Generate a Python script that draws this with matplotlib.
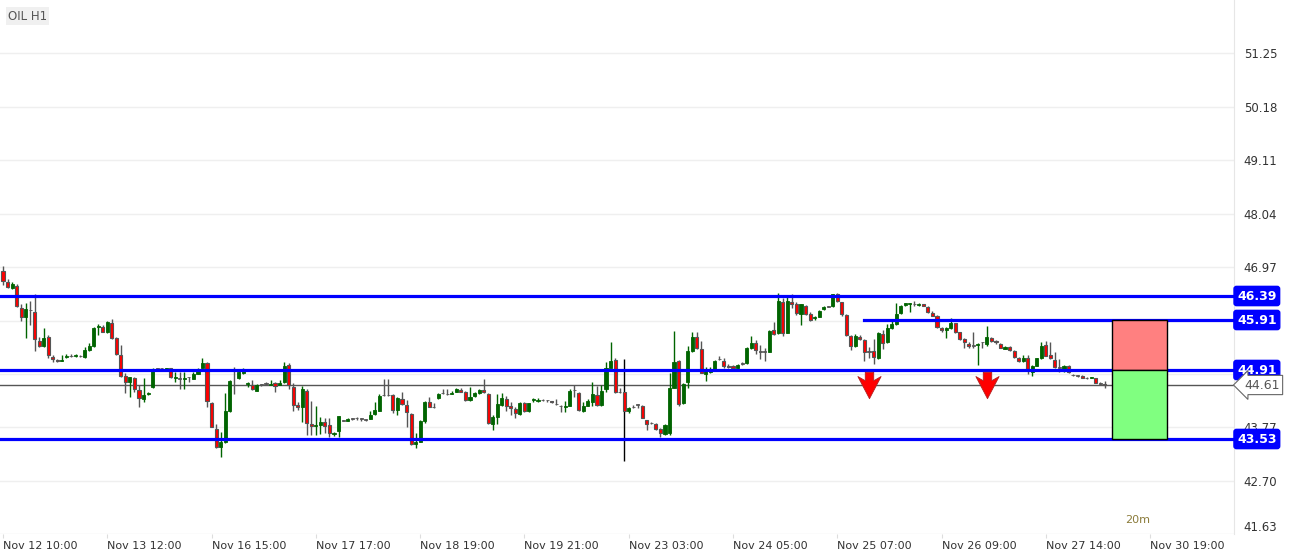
import matplotlib
matplotlib.use("Agg")
import matplotlib.pyplot as plt
import matplotlib.transforms as mtransforms
from matplotlib.path import Path
from matplotlib.patches import Rectangle
import numpy as np

# hourly OIL candles (open, high, low, close)
opens = [46.90, 46.67, 46.55, 46.60, 46.16, 45.97, 46.11, 46.08, 45.50, 45.39,
         45.57, 45.18, 45.12, 45.10, 45.17, 45.19, 45.19, 45.19, 45.18, 45.32,
         45.39, 45.77, 45.77, 45.67, 45.85, 45.55, 45.21, 44.79, 44.67, 44.76,
         44.52, 44.33, 44.43, 44.57, 44.94, 44.95, 44.93, 44.95, 44.75, 44.74,
         44.74, 44.77, 44.73, 44.83, 44.96, 45.06, 44.25, 43.74, 43.37, 43.48,
         44.10, 44.90, 44.75, 44.85, 44.63, 44.62, 44.50, 44.62, 44.64, 44.62,
         44.65, 44.61, 44.67, 45.01, 44.57, 44.21, 44.17, 44.49, 43.83, 43.79,
         43.81, 43.87, 43.81, 43.63, 43.69, 43.90, 43.90, 43.94, 43.95, 43.94,
         43.92, 43.94, 44.04, 44.10, 44.41, 44.41, 44.41, 44.11, 44.34, 44.21,
         44.03, 43.43, 43.48, 43.90, 44.28, 44.17, 44.35, 44.45, 44.43, 44.43,
         44.47, 44.52, 44.47, 44.31, 44.39, 44.45, 44.51, 44.43, 43.83, 43.98,
         44.21, 44.33, 44.20, 44.14, 44.03, 44.25, 44.09, 44.31, 44.29, 44.31,
         44.31, 44.29, 44.23, 44.19, 44.17, 44.20, 44.51, 44.46, 44.09, 44.20,
         44.28, 44.42, 44.21, 44.53, 44.96, 45.11, 44.47, 44.47, 44.09, 44.17,
         44.22, 44.19, 43.91, 43.85, 43.83, 43.73, 43.63, 43.66, 44.56, 45.09,
         44.25, 44.67, 45.29, 45.57, 45.33, 44.84, 44.87, 44.91, 45.13, 45.10,
         44.98, 44.99, 44.95, 45.04, 45.05, 45.36, 45.46, 45.28, 45.28, 45.28,
         45.71, 45.65, 46.28, 45.66, 46.28, 46.23, 46.03, 46.20, 46.03, 45.96,
         45.98, 46.13, 46.18, 46.19, 46.43, 46.27, 46.01, 45.60, 45.40, 45.58,
         45.51, 45.28, 45.29, 45.15, 45.63, 45.47, 45.76, 45.83, 46.05, 46.21,
         46.24, 46.23, 46.22, 46.23, 46.18, 46.06, 46.00, 45.76, 45.71, 45.75,
         45.85, 45.67, 45.53, 45.44, 45.40, 45.42, 45.47, 45.43, 45.56, 45.49,
         45.44, 45.33, 45.37, 45.30, 45.15, 45.09, 45.16, 44.88, 45.00, 45.15,
         45.41, 45.21, 45.11, 44.96, 44.93, 44.99, 44.81, 44.80, 44.79, 44.75,
         44.75, 44.75, 44.64, 44.63]
highs = [47.00, 46.73, 46.67, 46.63, 46.23, 46.25, 46.29, 46.43, 45.58, 45.75,
         45.62, 45.21, 45.13, 45.22, 45.23, 45.23, 45.24, 45.22, 45.38, 45.45,
         45.78, 45.83, 45.81, 45.89, 45.93, 45.57, 45.41, 44.85, 44.78, 44.78,
         44.61, 44.76, 44.48, 44.95, 44.95, 44.96, 44.96, 44.96, 44.87, 44.87,
         44.87, 44.78, 44.87, 44.96, 45.15, 45.08, 44.28, 43.83, 43.68, 44.45,
         44.71, 44.97, 44.89, 44.95, 44.68, 44.71, 44.63, 44.64, 44.68, 44.71,
         44.67, 44.71, 45.08, 45.05, 44.66, 44.28, 44.59, 44.53, 44.29, 44.20,
         43.98, 43.96, 43.95, 43.68, 44.00, 43.92, 43.95, 43.96, 43.98, 43.95,
         43.93, 44.09, 44.27, 44.43, 44.73, 44.73, 44.43, 44.38, 44.48, 44.31,
         44.05, 43.66, 43.91, 44.29, 44.38, 44.26, 44.45, 44.54, 44.54, 44.50,
         44.55, 44.55, 44.49, 44.58, 44.47, 44.53, 44.74, 44.45, 44.01, 44.43,
         44.45, 44.39, 44.28, 44.18, 44.28, 44.28, 44.26, 44.35, 44.35, 44.33,
         44.32, 44.29, 44.33, 44.22, 44.29, 44.53, 44.61, 44.48, 44.28, 44.33,
         44.68, 44.60, 44.61, 45.07, 45.48, 45.15, 44.55, 45.13, 44.17, 44.21,
         44.24, 44.21, 43.92, 43.88, 43.86, 43.75, 43.83, 44.86, 45.70, 45.11,
         44.65, 45.40, 45.68, 45.68, 45.49, 44.98, 44.98, 45.11, 45.20, 45.15,
         45.03, 45.01, 45.04, 45.07, 45.38, 45.60, 45.51, 45.41, 45.36, 45.71,
         45.87, 46.45, 46.36, 46.41, 46.43, 46.27, 46.24, 46.21, 46.08, 46.00,
         46.11, 46.19, 46.19, 46.44, 46.46, 46.28, 46.03, 45.61, 45.63, 45.61,
         45.53, 45.38, 45.54, 45.68, 45.71, 45.83, 45.89, 46.25, 46.21, 46.26,
         46.26, 46.29, 46.25, 46.24, 46.19, 46.09, 46.01, 45.78, 45.78, 45.96,
         45.86, 45.68, 45.55, 45.48, 45.67, 45.46, 45.48, 45.80, 45.58, 45.51,
         45.45, 45.39, 45.39, 45.32, 45.17, 45.21, 45.21, 45.01, 45.16, 45.48,
         45.49, 45.48, 45.28, 45.13, 45.01, 45.01, 44.83, 44.82, 44.81, 44.77,
         44.77, 44.76, 44.67, 44.69]
lows = [46.61, 46.56, 46.54, 46.17, 45.90, 45.55, 45.81, 45.29, 45.37, 45.38,
        45.15, 45.07, 45.08, 45.09, 45.16, 45.18, 45.18, 45.18, 45.16, 45.30,
        45.38, 45.61, 45.67, 45.65, 45.53, 45.21, 44.78, 44.45, 44.37, 44.48,
        44.17, 44.28, 44.42, 44.55, 44.93, 44.94, 44.92, 44.76, 44.68, 44.54,
        44.53, 44.68, 44.73, 44.83, 44.95, 44.17, 43.77, 43.35, 43.17, 43.45,
        44.08, 44.43, 44.74, 44.84, 44.58, 44.51, 44.50, 44.60, 44.62, 44.62,
        44.47, 44.61, 44.65, 44.53, 44.10, 44.11, 43.88, 43.61, 43.61, 43.61,
        43.63, 43.65, 43.57, 43.60, 43.57, 43.89, 43.90, 43.91, 43.92, 43.90,
        43.90, 43.93, 44.02, 44.09, 44.39, 44.40, 44.05, 44.01, 44.22, 43.77,
        43.42, 43.35, 43.47, 43.85, 44.17, 44.16, 44.34, 44.43, 44.41, 44.43,
        44.47, 44.47, 44.29, 44.30, 44.38, 44.43, 44.46, 43.84, 43.71, 43.84,
        44.20, 44.09, 44.01, 43.96, 44.02, 44.08, 44.08, 44.28, 44.27, 44.29,
        44.28, 44.25, 44.21, 44.08, 44.07, 44.19, 44.38, 44.10, 44.07, 44.19,
        44.19, 44.20, 44.20, 44.47, 44.95, 44.45, 44.46, 43.09, 44.05, 44.15,
        44.15, 43.95, 43.71, 43.84, 43.71, 43.58, 43.61, 43.61, 44.55, 44.20,
        44.23, 44.56, 45.28, 45.33, 44.85, 44.69, 44.86, 44.90, 45.11, 44.95,
        44.95, 44.94, 44.93, 45.02, 45.03, 45.33, 45.23, 45.13, 45.09, 45.27,
        45.61, 45.63, 45.59, 45.65, 46.16, 46.01, 45.81, 46.01, 45.89, 45.91,
        45.97, 46.12, 46.17, 46.17, 46.28, 45.99, 45.60, 45.31, 45.38, 45.51,
        45.10, 45.15, 45.03, 45.13, 45.33, 45.45, 45.73, 45.81, 46.04, 46.20,
        46.07, 46.20, 46.19, 46.19, 46.05, 45.99, 45.76, 45.67, 45.56, 45.74,
        45.65, 45.52, 45.36, 45.36, 45.36, 45.01, 45.35, 45.40, 45.48, 45.43,
        45.35, 45.33, 45.29, 45.15, 45.08, 45.08, 44.83, 44.80, 44.99, 45.13,
        45.19, 45.13, 44.95, 44.87, 44.87, 44.85, 44.79, 44.77, 44.75, 44.73,
        44.75, 44.65, 44.61, 44.56]
closes = [46.69, 46.57, 46.63, 46.19, 45.97, 46.13, 46.11, 45.53, 45.39, 45.56,
          45.21, 45.13, 45.10, 45.12, 45.20, 45.19, 45.20, 45.19, 45.31, 45.40,
          45.76, 45.80, 45.68, 45.87, 45.56, 45.23, 44.79, 44.67, 44.77, 44.53,
          44.35, 44.41, 44.46, 44.90, 44.94, 44.95, 44.95, 44.77, 44.76, 44.74,
          44.76, 44.77, 44.84, 44.89, 45.06, 44.29, 43.77, 43.37, 43.47, 44.10,
          44.70, 44.90, 44.87, 44.90, 44.64, 44.53, 44.61, 44.62, 44.64, 44.64,
          44.60, 44.66, 45.00, 44.61, 44.21, 44.17, 44.53, 43.85, 43.80, 43.80,
          43.87, 43.80, 43.65, 43.65, 43.99, 43.90, 43.94, 43.94, 43.95, 43.94,
          43.92, 44.02, 44.12, 44.40, 44.41, 44.41, 44.11, 44.35, 44.23, 44.07,
          43.43, 43.48, 43.90, 44.28, 44.17, 44.17, 44.44, 44.45, 44.43, 44.44,
          44.53, 44.48, 44.31, 44.38, 44.45, 44.52, 44.47, 43.85, 43.97, 44.23,
          44.36, 44.19, 44.15, 44.05, 44.26, 44.09, 44.25, 44.32, 44.32, 44.31,
          44.31, 44.27, 44.23, 44.19, 44.20, 44.50, 44.51, 44.11, 44.20, 44.29,
          44.43, 44.21, 44.49, 44.96, 45.10, 44.47, 44.47, 44.09, 44.16, 44.17,
          44.22, 43.95, 43.83, 43.85, 43.73, 43.66, 43.81, 44.56, 45.08, 44.23,
          44.63, 45.30, 45.57, 45.36, 44.86, 44.89, 44.91, 45.09, 45.13, 44.99,
          44.97, 44.95, 45.01, 45.04, 45.36, 45.46, 45.31, 45.28, 45.28, 45.70,
          45.63, 46.29, 45.65, 46.29, 46.23, 46.05, 46.23, 46.03, 45.91, 45.98,
          46.10, 46.18, 46.18, 46.43, 46.29, 46.03, 45.61, 45.40, 45.60, 45.53,
          45.28, 45.28, 45.17, 45.66, 45.45, 45.75, 45.83, 46.03, 46.20, 46.25,
          46.25, 46.23, 46.23, 46.19, 46.07, 46.00, 45.77, 45.71, 45.76, 45.85,
          45.67, 45.53, 45.47, 45.39, 45.40, 45.44, 45.47, 45.57, 45.49, 45.47,
          45.36, 45.37, 45.31, 45.17, 45.09, 45.15, 44.93, 45.00, 45.15, 45.40,
          45.20, 45.15, 44.97, 44.96, 44.99, 44.87, 44.81, 44.80, 44.76, 44.75,
          44.77, 44.66, 44.64, 44.61]

# candle with the long black wick (weekend gap)
spike_idx = 137

time_labels = ["Nov 12 10:00", "Nov 13 12:00", "Nov 16 15:00", "Nov 17 17:00",
               "Nov 18 19:00", "Nov 19 21:00", "Nov 23 03:00", "Nov 24 05:00",
               "Nov 25 07:00", "Nov 26 09:00", "Nov 27 14:00", "Nov 30 19:00"]
bars_per_label = 23

price_ticks = [41.63, 42.70, 43.77, 44.84, 45.90, 46.97, 48.04, 49.11, 50.18, 51.25]
hidden_ticks = [44.84, 45.90]  # covered by the level boxes

levels = [46.39, 44.91, 43.53]
short_level = 45.91
short_level_start = 190
current_price = 44.61

# trade box (stop above, target below)
entry, stop, target = 44.91, 45.91, 43.53
box_start, box_end = 244.6, 256.7

# sell arrows
arrow_idx = [191, 217]
arrow_price = [44.62, 44.62]

n = len(opens)
idx = np.arange(n)
o = np.array(opens)
h = np.array(highs)
l = np.array(lows)
c = np.array(closes)

fig = plt.figure(figsize=(12.9, 5.52), dpi=100)
ax = fig.add_axes([0, 18 / 552, 1234 / 1290, 534 / 552])
ax.set_xlim(-0.66, 271.5)
ax.set_ylim(41.63, 52.31)

# grid
for p in price_ticks:
    ax.axhline(p, color="#efefef", lw=1, zorder=0)

# wicks
up = c > o
down = c < o
flat = c == o
wick_col = np.where(up, "#006400", "#555555").tolist()
wick_col[spike_idx] = "black"
ax.vlines(idx, l, h, colors=wick_col, lw=1.0, zorder=2)

# bodies
width = 0.68
body_lo = np.minimum(o, c)
body_h = np.maximum(np.abs(c - o), 0.012)
ax.bar(idx[up], body_h[up], bottom=body_lo[up], width=width,
       color="#006400", edgecolor="#006400", lw=0.6, zorder=3)
ax.bar(idx[down], body_h[down], bottom=body_lo[down], width=width,
       color="#ff0000", edgecolor="#555555", lw=0.8, zorder=3)
ax.bar(idx[flat], body_h[flat], bottom=body_lo[flat] - 0.006, width=width,
       color="#555555", edgecolor="#555555", lw=0.6, zorder=3)

# horizontal levels
for lv in levels:
    ax.axhline(lv, color="#0000ff", lw=2.3, zorder=4)
ax.plot([short_level_start, 271.5], [short_level, short_level],
        color="#0000ff", lw=2.3, zorder=4)
ax.axhline(current_price, color="#555555", lw=1.0, zorder=1)

# trade box
ax.add_patch(Rectangle((box_start, entry), box_end - box_start, stop - entry,
                       fc="#ff8080", ec="black", lw=1, zorder=5))
ax.add_patch(Rectangle((box_start, target), box_end - box_start, entry - target,
                       fc="#80ff80", ec="black", lw=1, zorder=5))

# down arrows
arrow_verts = [(0, -12.5), (11, 8.5), (4, 4.5), (4, 12.5), (-4, 12.5),
               (-4, 4.5), (-11, 8.5), (0, -12.5)]
arrow_marker = Path(arrow_verts, closed=True)
ax.plot(arrow_idx, arrow_price, ls="none", marker=arrow_marker, markersize=19,
        markerfacecolor="#ff0000", markeredgecolor="#b02020", markeredgewidth=0.6,
        zorder=6)

# axes styling
for side in ["top", "left", "bottom"]:
    ax.spines[side].set_visible(False)
ax.spines["right"].set_color("#e6e6e6")

ax.yaxis.tick_right()
ax.set_yticks(price_ticks)
ax.set_yticklabels(["" if p in hidden_ticks else f"{p:.2f}" for p in price_ticks])
ax.tick_params(axis="y", length=0, pad=7, labelsize=8.5, labelcolor="#333333")
ax.get_yticklabels()[0].set_verticalalignment("bottom")

ax.set_xticks(np.arange(len(time_labels)) * bars_per_label)
ax.set_xticklabels(time_labels, ha="left")
ax.tick_params(axis="x", length=3, color="#dddddd", pad=2, labelsize=8,
               labelcolor="#333333")

# right side price boxes
trans = mtransforms.blended_transform_factory(ax.transAxes, ax.transData)
for lv in levels + [short_level]:
    ax.text(1.0185, lv, f"{lv:.2f}", transform=trans, ha="center", va="center",
            color="white", fontsize=9, fontweight="bold", clip_on=False, zorder=7,
            bbox=dict(boxstyle="round,pad=0.25,rounding_size=0.2",
                      fc="#0000ff", ec="#0000ff"))
ax.text(1.0225, current_price, f"{current_price:.2f}", transform=trans,
        ha="center", va="center", color="#555555", fontsize=9, clip_on=False,
        zorder=7, bbox=dict(boxstyle="larrow,pad=0.25", fc="white", ec="#666666",
                            lw=0.8))

# title tag and timeframe note
fig.text(8 / 1290, 1 - 16 / 552, "OIL H1", ha="left", va="center", fontsize=8.5,
         color="#555555", bbox=dict(boxstyle="square,pad=0.2", fc="#f0f0f0",
                                    ec="none"))
fig.text(1138 / 1290, 1 - 520 / 552, "20m", ha="center", va="center",
         fontsize=8, color="#8b7b3a")

fig.savefig("out.png", dpi=100)
